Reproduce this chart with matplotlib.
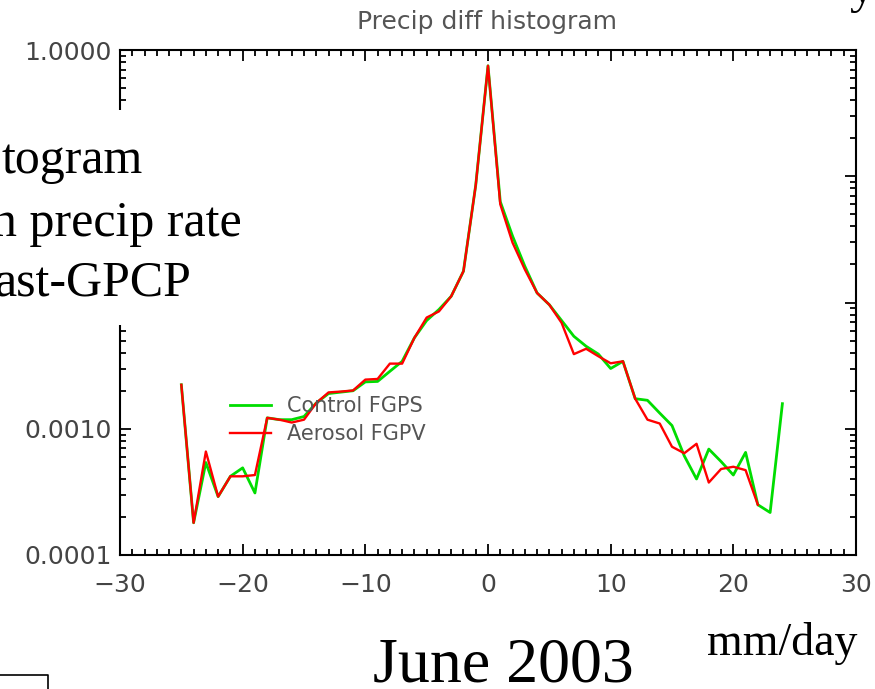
import matplotlib
matplotlib.use("Agg")
import matplotlib.pyplot as plt
from matplotlib.patches import Rectangle
from matplotlib.ticker import LogLocator, MultipleLocator, FuncFormatter, NullFormatter

# bin centres (mm/day) and normalised counts
x_control = [-25, -24, -23, -22, -21, -20, -19, -18, -17, -16,
             -15, -14, -13, -12, -11, -10, -9, -8, -7, -6,
             -5, -4, -3, -2, -1, 0, 1, 2, 3, 4,
             5, 6, 7, 8, 9, 10, 11, 12, 13, 14,
             15, 16, 17, 18, 19, 20, 21, 22, 23, 24]
control = [0.00223, 0.00018, 0.00054, 0.00029, 0.00042, 0.00049, 0.00031, 0.00122, 0.00118, 0.00118,
           0.00125, 0.00160, 0.00190, 0.00195, 0.00200, 0.00235, 0.00237, 0.00285, 0.00342, 0.00525,
           0.0072, 0.0088, 0.0112, 0.0177, 0.085, 0.75, 0.063, 0.0336, 0.0194, 0.0119,
           0.0096, 0.0072, 0.0054, 0.0045, 0.0039, 0.0030, 0.00342, 0.00173, 0.00168, 0.00133,
           0.00106, 0.00061, 0.00040, 0.00069, 0.00055, 0.00043, 0.00065, 0.00025, 0.000217, 0.00158]

x_aerosol = x_control[:48]
aerosol = [0.00223, 0.00018, 0.00066, 0.00029, 0.00042, 0.00042, 0.00043, 0.00122, 0.00118, 0.00112,
           0.00118, 0.00160, 0.00194, 0.00197, 0.00201, 0.00245, 0.00248, 0.00328, 0.00328, 0.00525,
           0.0076, 0.0085, 0.0112, 0.0177, 0.085, 0.75, 0.060, 0.0298, 0.0183, 0.0119,
           0.0096, 0.0069, 0.0039, 0.0043, 0.00375, 0.0033, 0.00342, 0.00173, 0.00118, 0.00110,
           0.00072, 0.00064, 0.00076, 0.000375, 0.00048, 0.00050, 0.00047, 0.00025]

# decades whose labels sit under the slide's text box
hidden_labels = [0.1, 0.01]

W, H = 875, 689
fig = plt.figure(figsize=(8.75, 6.89), dpi=100)
ax = fig.add_axes([120 / W, 1 - 555 / H, 736 / W, 505 / H])

ax.plot(x_control, control, color='#00dd00', lw=2.0, label='Control FGPS')
ax.plot(x_aerosol, aerosol, color='#ff0000', lw=1.7, label='Aerosol FGPV')

ax.set_yscale('log')
ax.set_xlim(-30, 30)
ax.set_ylim(0.0001, 1.0)


def ylab(v, p):
    if any(abs(v - h) / h < 1e-6 for h in hidden_labels):
        return ''
    return f'{v:.4f}'


ax.xaxis.set_major_locator(MultipleLocator(10))
ax.xaxis.set_minor_locator(MultipleLocator(1))
ax.yaxis.set_major_locator(LogLocator(base=10, numticks=10))
ax.yaxis.set_minor_locator(LogLocator(base=10, subs=range(2, 10), numticks=20))
ax.yaxis.set_major_formatter(FuncFormatter(ylab))
ax.yaxis.set_minor_formatter(NullFormatter())

for s in ax.spines.values():
    s.set_linewidth(1.5)
ax.tick_params(which='both', direction='in', top=True, right=True,
               width=1.3, colors='black', labelcolor='#444444', labelsize=18)
ax.tick_params(which='major', length=8)
ax.tick_params(which='minor', length=4)
ax.tick_params(axis='x', pad=13)
ax.tick_params(axis='y', pad=6)

ax.legend(loc='upper left', bbox_to_anchor=(0.149, 0.315), frameon=False,
          handlelength=2.0, handletextpad=0.75, labelspacing=0.4,
          borderpad=0, borderaxespad=0, fontsize=15, labelcolor='#555555')

fig.text(487 / W, 1 - 22 / H, 'Precip diff histogram', ha='center', va='center',
         fontsize=18, color='#555555')

# slide overlay: white text box covering part of the left axis
fig.patches.append(Rectangle((0, 1 - 325 / H), 258 / W, 215 / H, transform=fig.transFigure,
                             facecolor='white', edgecolor='none', zorder=2))
serif = 'Liberation Serif'
fig.text(2 / W, 1 - 173 / H, 'togram', family=serif, fontsize=36, va='baseline', zorder=3)
fig.text(-8 / W, 1 - 236 / H, 'n precip rate', family=serif, fontsize=36, va='baseline', zorder=3)
fig.text(-6 / W, 1 - 296 / H, 'ast-GPCP', family=serif, fontsize=36, va='baseline', zorder=3)
fig.text(503 / W, 1 - 681 / H, 'June 2003', family=serif, fontsize=46, ha='center',
         va='baseline')
fig.text(782 / W, 1 - 655 / H, 'mm/day', family=serif, fontsize=33, ha='center',
         va='baseline')
fig.text(862 / W, 1 - 2 / H, 'y', family=serif, fontsize=36, ha='center', va='baseline')

# corner of a slide frame at bottom left
fig.lines.append(plt.Line2D([0, 48 / W, 48 / W], [1 - 675 / H, 1 - 675 / H, 0],
                            transform=fig.transFigure, color='black', lw=1.2))

fig.savefig('out.png', dpi=100)
